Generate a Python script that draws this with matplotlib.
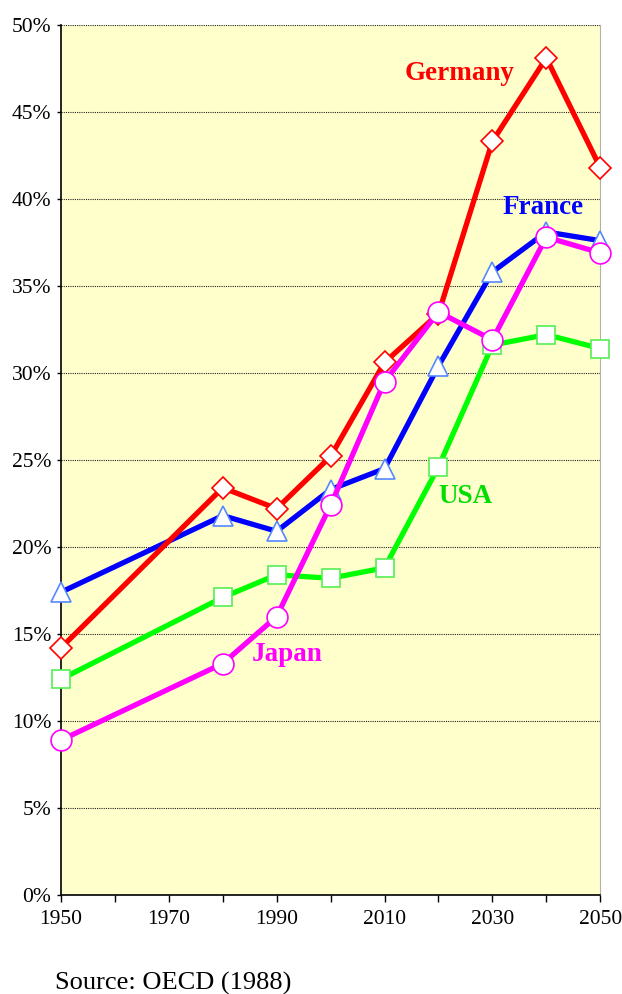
import matplotlib.pyplot as plt
from matplotlib.ticker import FixedLocator, NullFormatter

plt.rcParams['font.family'] = 'Liberation Serif'

years = [1950, 1980, 1990, 2000, 2010, 2020, 2030, 2040, 2050]
germany = [14.2, 23.4, 22.2, 25.2, 30.6, 33.4, 43.3, 48.1, 41.8]
france = [17.4, 21.8, 20.9, 23.3, 24.5, 30.4, 35.8, 38.1, 37.6]
usa = [12.4, 17.1, 18.4, 18.2, 18.8, 24.6, 31.6, 32.2, 31.4]
japan = [8.9, 13.3, 16.0, 22.4, 29.5, 33.5, 31.9, 37.8, 36.9]

fig = plt.figure(figsize=(6.22, 9.94), dpi=100)
ax = fig.add_axes([0.098, 0.0996, 0.867, 0.8754])
ax.set_facecolor('#FFFFCC')

ax.plot(years, usa, color='#00FF00', lw=3.8, marker='s', ms=13,
        mfc='white', mec='#55EE55', mew=1.2, zorder=3, clip_on=False)
ax.plot(years, france, color='#0000FF', lw=3.8, marker='^', ms=15,
        mfc='white', mec='#5588FF', mew=1.2, zorder=4, clip_on=False)
ax.plot(years, germany, color='#FF0000', lw=3.8, marker='D', ms=11,
        mfc='white', mec='#FF0000', mew=1.2, zorder=5, clip_on=False)
ax.plot(years, japan, color='#FF00FF', lw=3.8, marker='o', ms=15,
        mfc='white', mec='#FF00FF', mew=1.2, zorder=6, clip_on=False)

ax.text(2024, 47.2, 'Germany', color='#FF0000', fontsize=19.5, fontweight='bold', ha='center', va='center')
ax.text(2039.4, 39.5, 'France', color='#0000FF', fontsize=19.5, fontweight='bold', ha='center', va='center')
ax.text(2025, 22.9, 'USA', color='#00DD00', fontsize=19.5, fontweight='bold', ha='center', va='center')
ax.text(1992, 13.8, 'Japan', color='#FF00FF', fontsize=19.5, fontweight='bold', ha='center', va='center')

ax.set_xlim(1950, 2050)
ax.set_ylim(0, 50)
ax.set_xticks(range(1950, 2051, 20))
ax.xaxis.set_minor_locator(FixedLocator(range(1960, 2050, 20)))
ax.xaxis.set_minor_formatter(NullFormatter())
ax.set_yticks(range(0, 51, 5))
ax.set_yticklabels([f'{v}%' for v in range(0, 51, 5)])
ax.tick_params(axis='both', which='both', direction='out', length=5, width=1, labelsize=15.5, color='black')
ax.tick_params(axis='x', pad=6)
ax.tick_params(axis='y', length=3, pad=4)

ax.yaxis.grid(True, color='#222222', linestyle=(0, (1, 1)), linewidth=0.8)
ax.set_axisbelow(True)

ax.spines['top'].set_visible(False)
ax.spines['right'].set_color('#B0B0B0')
ax.spines['left'].set_linewidth(1.2)
ax.spines['bottom'].set_linewidth(1.2)

fig.text(55 / 622, 1 - 983 / 994, 'Source: OECD (1988)', fontsize=19, ha='left', va='center')

fig.savefig('out.png', dpi=100)
